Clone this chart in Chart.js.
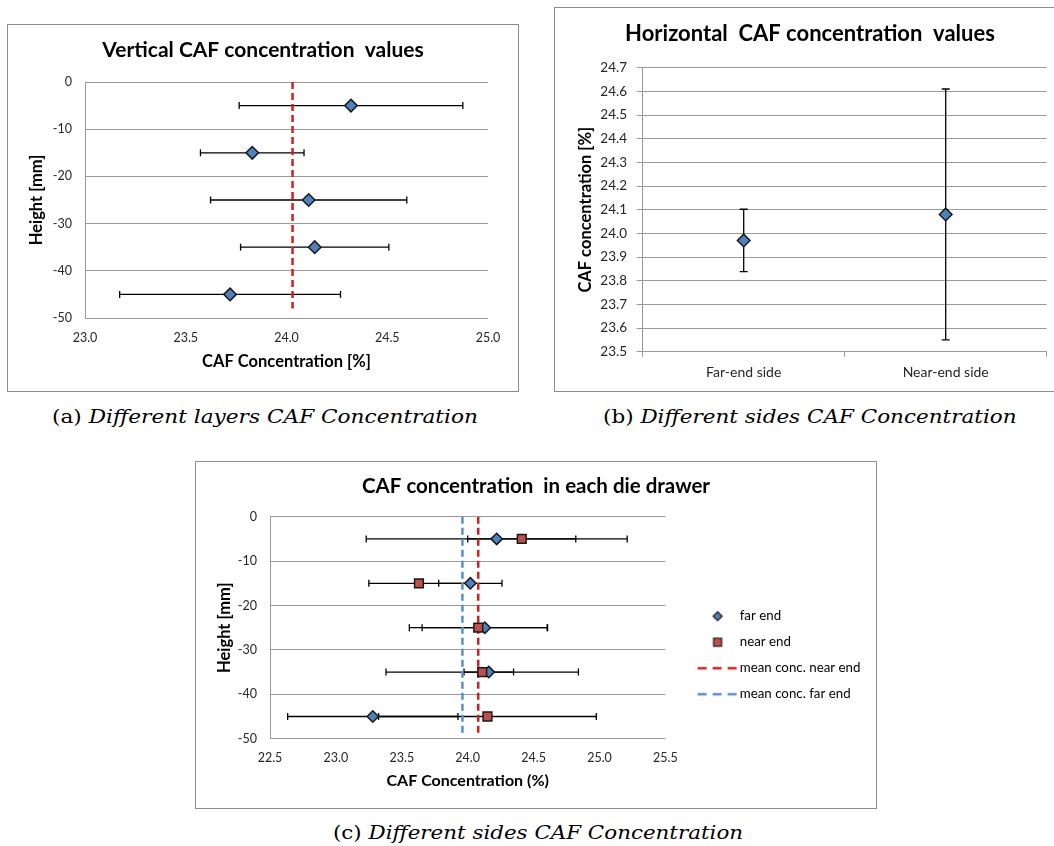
<!DOCTYPE html>
<html><head><meta charset="utf-8">
<script src="https://cdn.jsdelivr.net/npm/chart.js@4.4.1/dist/chart.umd.min.js"></script>
<style>
html,body{margin:0;padding:0;background:#fff;overflow:hidden;width:1054px;height:846px;position:relative;}
.frame{position:absolute;border:1px solid #8c8c8c;background:#fff;overflow:hidden;}
.frame canvas{display:block;}
.cap{position:absolute;font-family:'DejaVu Serif',serif;font-size:19px;line-height:19px;color:#000;white-space:nowrap;transform-origin:50% 50%;}
.cap i{font-style:italic;}
</style></head><body>
<div class="frame" style="left:7px;top:24px;width:510px;height:366px;"><canvas id="ca" width="510" height="366"></canvas></div>
<div class="frame" style="left:554px;top:7px;width:510px;height:383px;"><canvas id="cb" width="510" height="383"></canvas></div>
<div class="frame" style="left:195px;top:461px;width:680px;height:346px;"><canvas id="cc" width="680" height="346"></canvas></div>
<div class="cap" id="capA">(a) <i>Different layers CAF Concentration</i></div>
<div class="cap" id="capB">(b) <i>Different sides CAF Concentration</i></div>
<div class="cap" id="capC">(c) <i>Different sides CAF Concentration</i></div>
<script>
// ---------- data ----------
const layerHeights = [-5, -15, -25, -35, -45];
const layerConc    = [24.32, 23.83, 24.11, 24.14, 23.72];
const layerErr     = [0.555, 0.257, 0.487, 0.368, 0.548];
const layerMean    = 24.03;
const layerMeanSpan = [0, -48];
const layerConcTicks = [23.0, 23.5, 24.0, 24.5, 25.0];

const heightTicks = [0, -10, -20, -30, -40, -50];

const sideLabels = ['Far-end side', 'Near-end side'];
const sideConc   = [23.97, 24.08];
const sideErr    = [0.132, 0.53];
const sideTicks  = [23.5, 23.6, 23.7, 23.8, 23.9, 24.0, 24.1, 24.2, 24.3, 24.4, 24.5, 24.6, 24.7];

const drawerHeights = [-5, -15, -25, -35, -45];
const farConc  = [24.22, 24.02, 24.13, 24.16, 23.28];
const farErr   = [0.99, 0.24, 0.476, 0.188, 0.646];
const nearConc = [24.41, 23.63, 24.08, 24.11, 24.15];
const nearErr  = [0.41, 0.38, 0.523, 0.73, 0.826];
const meanNear = 24.08;
const meanFar  = 23.96;
const drawerMeanSpan = [0, -49];
const drawerConcTicks = [22.5, 23.0, 23.5, 24.0, 24.5, 25.0, 25.5];

const seriesNames = ['far end', 'near end', 'mean conc. near end', 'mean conc. far end'];

// ---------- styles ----------
const FONT = 'Lato';
const GRID = '#9a9a9a';
const TICK = '#262626';
const BLUE = '#4f81bd';
const RED = '#c0504d';
const MEAN_RED = '#d41f1f';
const MEAN_BLUE = '#5b8dcc';
Chart.defaults.font.family = FONT;
Chart.defaults.color = TICK;

function fixedTicks(arr){ return function(s){ s.ticks = arr.map(v => ({value: v})); }; }
function oneDec(v){ return Number(v).toFixed(1); }
function spacerAxis(w){
  return { type: 'linear', position: 'right', display: true, afterFit: s => { s.width = w; },
    grid: { display: false, drawTicks: false }, border: { display: false }, ticks: { display: false } };
}

function hBars(vals, errs, ys){
  return vals.map((v, i) => ({
    label: 'err', data: [{x: v - errs[i], y: ys[i]}, {x: v + errs[i], y: ys[i]}],
    showLine: true, borderColor: '#000', borderWidth: 1.3,
    pointStyle: 'line', rotation: 90, pointRadius: 3.5, pointBorderColor: '#000', pointBorderWidth: 1.3
  }));
}
function vBars(labels, vals, errs){
  return vals.map((v, i) => ({
    label: 'err', data: [{x: labels[i], y: v - errs[i]}, {x: labels[i], y: v + errs[i]}],
    showLine: true, borderColor: '#000', borderWidth: 1.3,
    pointStyle: 'line', rotation: 0, pointRadius: 4, pointBorderColor: '#000', pointBorderWidth: 1.3
  }));
}
function markers(label, vals, ys, style, r, color){
  return { label, data: vals.map((v, i) => ({x: v, y: ys[i]})), showLine: false,
    pointStyle: style, pointRadius: r, pointBackgroundColor: color, pointBorderColor: '#1a1a1a', pointBorderWidth: 1.5 };
}
function meanLine(label, m, span, color){
  return { label, data: [{x: m, y: span[0]}, {x: m, y: span[1]}], showLine: true,
    borderColor: color, borderWidth: 2.5, borderDash: [7, 4], pointRadius: 0 };
}

// ---------- chart (a) ----------
new Chart(document.getElementById('ca'), {
  type: 'scatter',
  data: { datasets: [
    markers('layers', layerConc, layerHeights, 'rectRot', 6.3, BLUE),
    meanLine('mean', layerMean, layerMeanSpan, MEAN_RED),
    ...hBars(layerConc, layerErr, layerHeights)
  ]},
  options: {
    responsive: false, animation: false, events: [], devicePixelRatio: 1,
    layout: { padding: 0 },
    plugins: {
      legend: { display: false }, tooltip: { enabled: false },
      title: { display: true, text: 'Vertical CAF concentration  values', color: '#000',
        font: { family: FONT, size: 21, weight: 'bold' }, padding: { top: 12.4, bottom: 19.4 } }
    },
    scales: {
      x: { type: 'linear', min: 23, max: 25, afterBuildTicks: fixedTicks(layerConcTicks),
        afterFit: s => { s.height = 73; },
        grid: { display: false, drawTicks: false }, border: { display: false },
        ticks: { callback: oneDec, padding: 12.8, font: { size: 12.5 }, color: TICK, maxRotation: 0 },
        title: { display: true, text: 'CAF Concentration [%]', color: '#000',
          font: { size: 16.5, weight: 'bold' }, padding: { top: 0, bottom: 19.1 } } },
      y: { type: 'linear', min: -50, max: 0, afterBuildTicks: fixedTicks(heightTicks),
        afterFit: s => { s.width = 77; },
        grid: { color: GRID, lineWidth: 1, drawTicks: false }, border: { display: true, color: GRID, width: 1 },
        ticks: { padding: 13, font: { size: 12.5 }, color: TICK },
        title: { display: true, text: 'Height [mm]', color: '#000',
          font: { size: 16.5, weight: 'bold' }, padding: { top: 19.1, bottom: 0 } } },
      yR: spacerAxis(30)
    }
  }
});

// ---------- chart (b) ----------
new Chart(document.getElementById('cb'), {
  type: 'line',
  data: { labels: sideLabels, datasets: [
    { label: 'sides', data: sideConc.map((v, i) => ({x: sideLabels[i], y: v})), showLine: false,
      pointStyle: 'rectRot', pointRadius: 6.3, pointBackgroundColor: BLUE, pointBorderColor: '#1a1a1a', pointBorderWidth: 1.5 },
    ...vBars(sideLabels, sideConc, sideErr)
  ]},
  options: {
    responsive: false, animation: false, events: [], devicePixelRatio: 1,
    layout: { padding: 0 },
    plugins: {
      legend: { display: false }, tooltip: { enabled: false },
      title: { display: true, text: 'Horizontal  CAF concentration  values', color: '#000',
        font: { family: FONT, size: 22, weight: 'bold' }, padding: { top: 12.8, bottom: 20.5 } }
    },
    scales: {
      x: { type: 'category', offset: true, afterFit: s => { s.height = 39.3; },
        grid: { offset: true, drawOnChartArea: false, drawTicks: true, tickLength: 5, color: GRID },
        border: { display: true, color: GRID },
        ticks: { padding: 7.3, font: { size: 14 }, color: TICK, maxRotation: 0 } },
      y: { type: 'linear', min: 23.5, max: 24.7, afterBuildTicks: fixedTicks(sideTicks),
        afterFit: s => { s.width = 87.7; },
        grid: { color: GRID, lineWidth: 1, drawTicks: true, tickLength: 6 }, border: { display: true, color: GRID },
        ticks: { callback: oneDec, padding: 9.7, font: { size: 13.5 }, color: TICK },
        title: { display: true, text: 'CAF concentration [%]', color: '#000',
          font: { size: 16.5, weight: 'bold' }, padding: { top: 21.1, bottom: 0 } } },
      yR: spacerAxis(18.3)
    }
  }
});

// ---------- chart (c) ----------
function icon(draw){ const c = document.createElement('canvas'); c.width = 80; c.height = 16; const g = c.getContext('2d'); draw(g); return c; }
const iconFar = icon(g => { g.beginPath(); g.moveTo(52, 3.5); g.lineTo(56.5, 8); g.lineTo(52, 12.5); g.lineTo(47.5, 8); g.closePath();
  g.fillStyle = BLUE; g.fill(); g.lineWidth = 1.2; g.strokeStyle = '#1a1a1a'; g.stroke(); });
const iconNear = icon(g => { g.fillStyle = RED; g.fillRect(48, 4, 8, 8); g.lineWidth = 1.2; g.strokeStyle = '#1a1a1a'; g.strokeRect(48, 4, 8, 8); });
const iconMean = col => icon(g => { g.setLineDash([9, 6]); g.lineWidth = 2.5; g.strokeStyle = col; g.beginPath(); g.moveTo(32, 8); g.lineTo(71, 8); g.stroke(); });
const legendIcons = [iconFar, iconNear, iconMean(MEAN_RED), iconMean(MEAN_BLUE)];

const LEGEND_W = 210.6;
const legendWidthPlugin = {
  id: 'legendWidth',
  beforeLayout(chart){
    const lg = chart.legend;
    if (lg && !lg._wPatched){
      const orig = lg.fit;
      lg.fit = function(){ orig.call(this); this.width = LEGEND_W; };
      lg._wPatched = true;
    }
  }
};

new Chart(document.getElementById('cc'), {
  type: 'scatter',
  plugins: [legendWidthPlugin],
  data: { datasets: [
    markers(seriesNames[1], nearConc, drawerHeights, 'rect', 6.2, RED),
    markers(seriesNames[0], farConc, drawerHeights, 'rectRot', 5.7, BLUE),
    meanLine(seriesNames[2], meanNear, drawerMeanSpan, MEAN_RED),
    meanLine(seriesNames[3], meanFar, drawerMeanSpan, MEAN_BLUE),
    ...hBars(nearConc, nearErr, drawerHeights),
    ...hBars(farConc, farErr, drawerHeights)
  ]},
  options: {
    responsive: false, animation: false, events: [], devicePixelRatio: 1,
    layout: { padding: 0 },
    plugins: {
      tooltip: { enabled: false },
      title: { display: true, text: 'CAF concentration  in each die drawer', color: '#000',
        font: { family: FONT, size: 20.5, weight: 'bold' }, padding: { top: 12.4, bottom: 17.7 } },
      legend: { display: true, position: 'right', align: 'center',
        title: { display: true, text: '', padding: { top: 26, bottom: 0 }, font: { size: 12 } },
        labels: { usePointStyle: true, pointStyleWidth: 55, boxHeight: 12, padding: 12.7,
          font: { family: FONT, size: 13.3 }, color: '#000',
          generateLabels: chart => seriesNames.map((t, i) => ({
            text: t, pointStyle: legendIcons[i], fillStyle: 'transparent', strokeStyle: 'transparent',
            lineWidth: 0, hidden: false, datasetIndex: [1, 0, 2, 3][i], fontColor: '#000'
          })) } }
    },
    scales: {
      x: { type: 'linear', min: 22.5, max: 25.5, afterBuildTicks: fixedTicks(drawerConcTicks),
        afterFit: s => { s.height = 69.3; },
        grid: { display: false, drawTicks: false }, border: { display: false },
        ticks: { callback: oneDec, padding: 11.8, font: { size: 12.5 }, color: TICK, maxRotation: 0 },
        title: { display: true, text: 'CAF Concentration (%)', color: '#000',
          font: { size: 16, weight: 'bold' }, padding: { top: 0, bottom: 17.7 } } },
      y: { type: 'linear', min: -50, max: 0, afterBuildTicks: fixedTicks(heightTicks),
        afterFit: s => { s.width = 74; },
        grid: { color: GRID, lineWidth: 1, drawTicks: false }, border: { display: true, color: GRID },
        ticks: { padding: 13, font: { size: 12.5 }, color: TICK },
        title: { display: true, text: 'Height [mm]', color: '#000',
          font: { size: 16.5, weight: 'bold' }, padding: { top: 19.1, bottom: 0 } } }
    }
  }
});

// ---------- captions ----------
function placeCap(id, cx, baseline, targetW){
  const el = document.getElementById(id);
  const w = el.offsetWidth;
  el.style.left = (cx - w / 2) + 'px';
  el.style.top = (baseline - 16.1) + 'px';
  el.style.transform = 'scaleX(' + (targetW / w) + ')';
}
placeCap('capA', 265, 423.3, 426);
placeCap('capB', 809.5, 423, 414);
placeCap('capC', 538, 839.3, 410);
</script>
</body></html>
